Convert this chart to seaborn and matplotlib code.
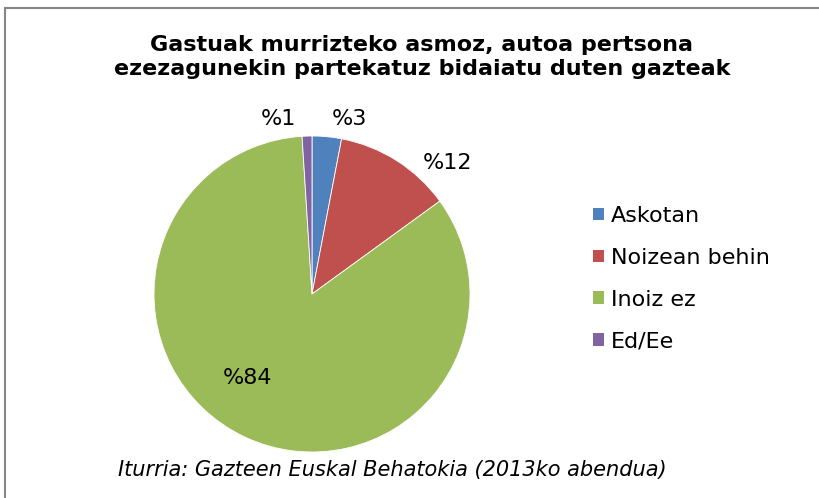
import matplotlib
matplotlib.use("Agg")
import matplotlib.pyplot as plt
from matplotlib.patches import Patch, Rectangle
import seaborn as sns

# datuak
categories = ["Askotan", "Noizean behin", "Inoiz ez", "Ed/Ee"]
values = [3, 12, 84, 1]
pct_labels = ["%3", "%12", "%84", "%1"]
colors = ["#4F81BD", "#C0504D", "#9BBB59", "#8064A2"]

title = "Gastuak murrizteko asmoz, autoa pertsona\nezezagunekin partekatuz bidaiatu duten gazteak"
source = "Iturria: Gazteen Euskal Behatokia (2013ko abendua)"

sns.set_theme(style="white")
plt.rcParams["font.family"] = ["DejaVu Sans"]
plt.rcParams["text.color"] = "black"

W, H = 819, 498
fig = plt.figure(figsize=(W / 100, H / 100), dpi=100)

# pie axes (center ~ (312, 294) px, radius ~158 px)
ax = fig.add_axes([154 / W, (H - 452) / H, 316 / W, 316 / H])
wedges, _ = ax.pie(values, colors=colors, startangle=90, counterclock=False,
                   radius=1, wedgeprops=dict(linewidth=0.6, edgecolor="white"))
ax.set_xlim(-1, 1)
ax.set_ylim(-1, 1)
ax.set_aspect("equal")
ax.axis("off")

# label positions (Excel-like best fit)
label_pos = [(0.24, 1.11), (0.86, 0.83), (-0.41, -0.53), (-0.21, 1.11)]
for lab, (lx, ly) in zip(pct_labels, label_pos):
    ax.text(lx, ly, lab, ha="center", va="center", fontsize=16, color="black",
            clip_on=False)

# title
fig.text(422 / W, 1 - 57 / H, title, ha="center", va="center",
         fontsize=16, fontweight="bold", linespacing=1.25)

# legend
handles = [Patch(facecolor=c, edgecolor="none") for c in colors]
fig.legend(handles, categories, loc="upper left",
           bbox_to_anchor=(573 / W, 1 - 186 / H), frameon=False,
           fontsize=16, handlelength=0.5, handleheight=0.5,
           handletextpad=0.3, labelspacing=0.98)

# source
fig.text(118 / W, 1 - 470 / H, source, ha="left", va="center",
         fontsize=15, style="italic")

# chart border
fig.patches.append(Rectangle((5 / W, -0.1), 1.1, 1.1 - 8 / H, transform=fig.transFigure,
                             fill=False, edgecolor="#868686", linewidth=1.5))

fig.savefig("out.png", dpi=100, facecolor="white")
